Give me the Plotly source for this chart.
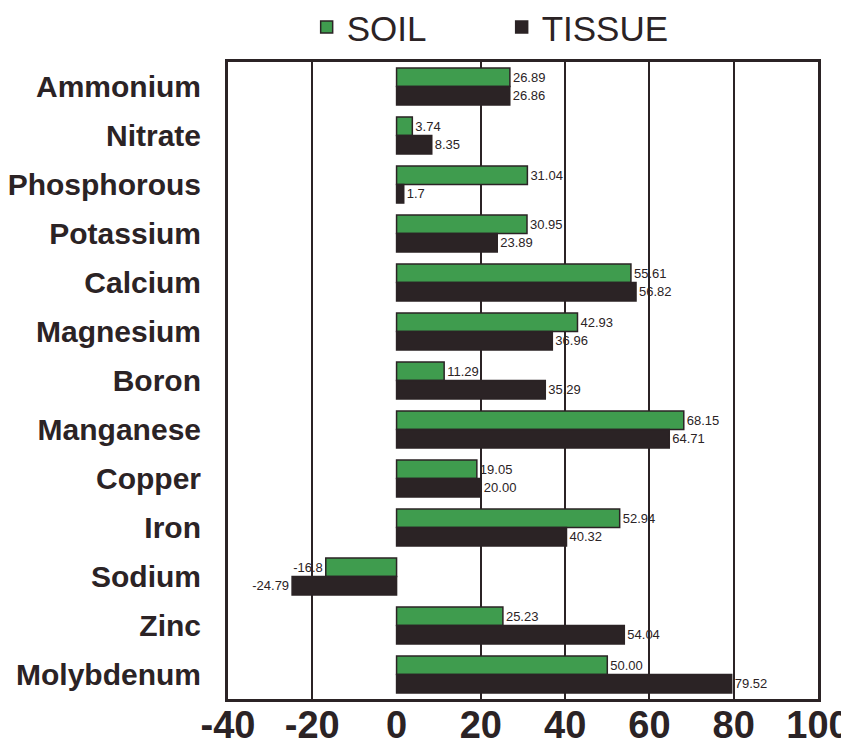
import plotly.graph_objects as go

categories = ["Ammonium", "Nitrate", "Phosphorous", "Potassium", "Calcium", "Magnesium",
              "Boron", "Manganese", "Copper", "Iron", "Sodium", "Zinc", "Molybdenum"]
soil = [26.89, 3.74, 31.04, 30.95, 55.61, 42.93, 11.29, 68.15, 19.05, 52.94, -16.8, 25.23, 50.00]
tissue = [26.86, 8.35, 1.7, 23.89, 56.82, 36.96, 35.29, 64.71, 20.00, 40.32, -24.79, 54.04, 79.52]
soil_labels = ["26.89", "3.74", "31.04", "30.95", "55.61", "42.93", "11.29", "68.15", "19.05",
               "52.94", "-16.8", "25.23", "50.00"]
tissue_labels = ["26.86", "8.35", "1.7", "23.89", "56.82", "36.96", "35.29", "64.71", "20.00",
                 "40.32", "-24.79", "54.04", "79.52"]
x_ticks = [-40, -20, 0, 20, 40, 60, 80, 100]

DARK = "#2b2325"
GREEN = "#3f9c4e"
LABEL_FONT = dict(family="Liberation Sans Narrow, Arial Narrow, Liberation Sans, Arial", size=13, color=DARK)

fig = go.Figure()
fig.add_trace(go.Bar(
    y=categories, x=soil, name="SOIL", orientation="h",
    marker=dict(color=GREEN, line=dict(color=DARK, width=1.5)),
    text=soil_labels, textposition="outside", textfont=LABEL_FONT,
    cliponaxis=False, constraintext="none",
))
fig.add_trace(go.Bar(
    y=categories, x=tissue, name="TISSUE", orientation="h",
    marker=dict(color=DARK, line=dict(color=DARK, width=1.5)),
    text=tissue_labels, textposition="outside", textfont=LABEL_FONT,
    cliponaxis=False, constraintext="none",
))

# The page body adds an 8px offset; the figure is sized to fill the remaining window.
fig.update_layout(
    width=841, height=742,
    barmode="group", bargap=0.24, bargroupgap=0.0,
    paper_bgcolor="white", plot_bgcolor="white",
    margin=dict(l=220, r=31, t=54, b=51, autoexpand=False),
    font=dict(family="Liberation Sans, Arial", color=DARK),
    legend=dict(orientation="h", xref="container", x=0.587, xanchor="center",
                yref="container", y=0.974, yanchor="middle",
                font=dict(size=35, family="Liberation Sans, Arial", color=DARK),
                itemwidth=30, entrywidth=150, tracegroupgap=0, bgcolor="rgba(0,0,0,0)"),
    showlegend=True,
)
fig.update_xaxes(
    range=[-40, 100], tickvals=x_ticks, ticktext=[str(v) for v in x_ticks],
    showgrid=True, gridcolor=DARK, gridwidth=1.5,
    zeroline=True, zerolinecolor="white", zerolinewidth=2,
    showline=True, linecolor=DARK, linewidth=3, mirror=True,
    ticks="", tickfont=dict(size=38, family="Liberation Sans, Arial", color=DARK, weight="bold"),
    ticklabelstandoff=-10, ticklabeloverflow="allow",
)
fig.update_yaxes(
    autorange="reversed", showgrid=False,
    showline=True, linecolor=DARK, linewidth=3, mirror=True,
    ticks="", tickfont=dict(size=30, family="Liberation Sans, Arial", color=DARK, weight="bold"),
    ticklabelstandoff=18,
)

fig.write_html("out.html")
